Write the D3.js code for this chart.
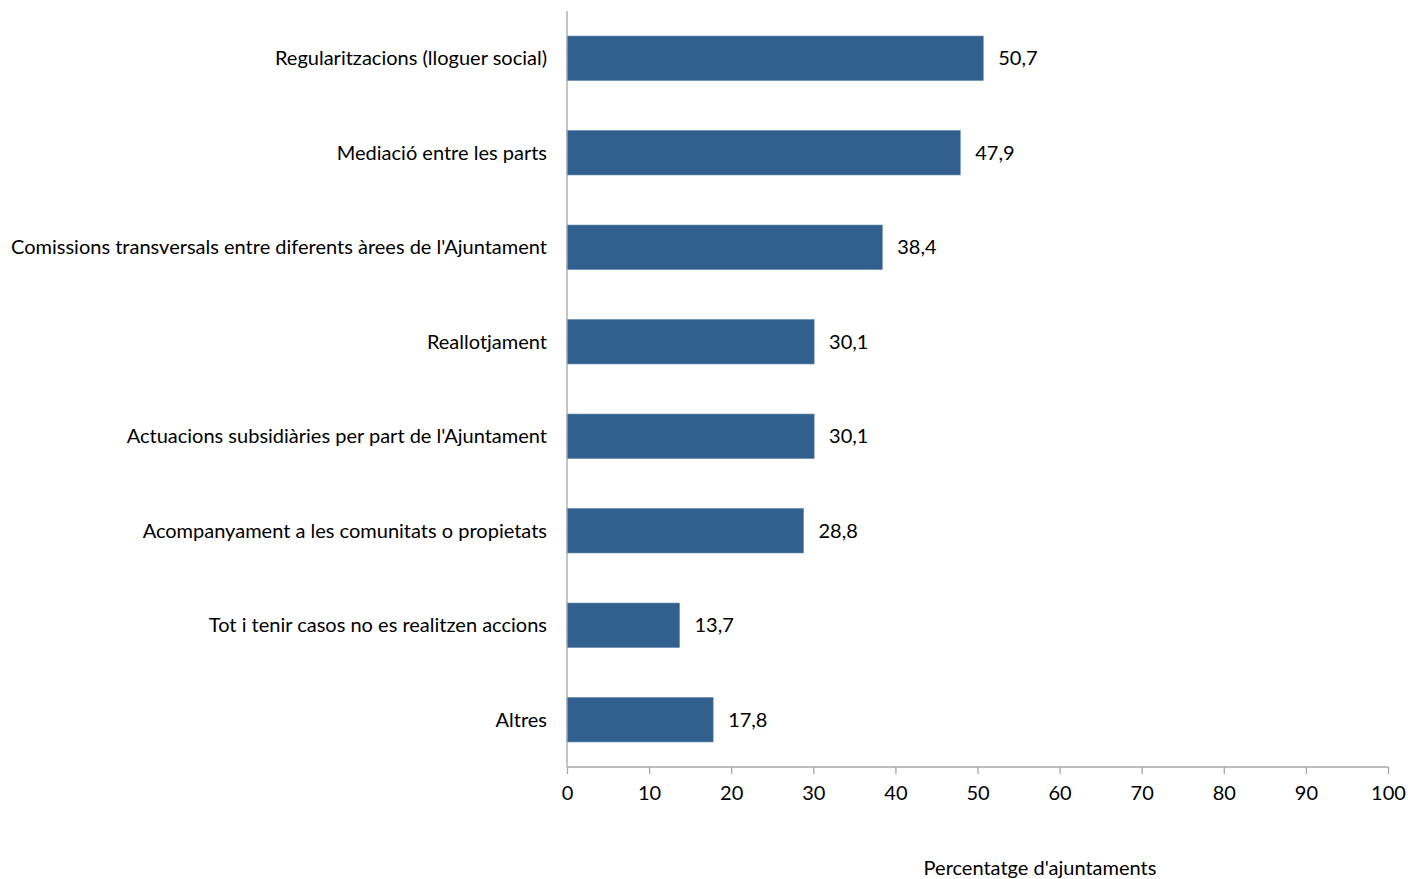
<!DOCTYPE html>
<html><head><meta charset="utf-8">
<script src="https://d3js.org/d3.v7.min.js"></script>
<style>body{margin:0;background:#fff}text{font-family:Lato,"Open Sans",sans-serif;fill:#000}</style>
</head><body><svg id="c" width="1408" height="879"></svg>
<script>
const categories = ["Regularitzacions (lloguer social)","Mediació entre les parts","Comissions transversals entre diferents àrees de l'Ajuntament","Reallotjament","Actuacions subsidiàries per part de l'Ajuntament","Acompanyament a les comunitats o propietats","Tot i tenir casos no es realitzen accions","Altres"];
const values = [50.7,47.9,38.4,30.1,30.1,28.8,13.7,17.8];
const valueLabels = ["50,7","47,9","38,4","30,1","30,1","28,8","13,7","17,8"];
const xTicks = [0,10,20,30,40,50,60,70,80,90,100];
const xTitle = "Percentatge d'ajuntaments";

const svg = d3.select("#c");
const x = d3.scaleLinear().domain([0,100]).range([567,1388]);
const y = d3.scaleBand().domain(categories).range([11,767]).paddingInner(0.53).paddingOuter(0.265);
const fs = 20;

svg.selectAll("rect.bar").data(values).join("rect").attr("class","bar")
  .attr("x",x(0)).attr("y",(d,i)=>y(categories[i]))
  .attr("width",d=>x(d)-x(0)).attr("height",y.bandwidth())
  .attr("fill","#31608f").attr("stroke","#5a82ab").attr("stroke-width",0.6);

svg.append("line").attr("x1",x(0)).attr("x2",x(0)).attr("y1",11).attr("y2",767).attr("stroke","#a6a6a6").attr("stroke-width",1.3);
const xa = svg.append("g").attr("transform","translate(0,767)").call(d3.axisBottom(x).tickValues(xTicks).tickSize(7).tickFormat(d3.format("d")));
xa.select(".domain").attr("stroke","#a6a6a6").attr("stroke-width",1.3).attr("d",`M${x(0)},0H${x(100)}`);
xa.selectAll(".tick line").attr("stroke","#a6a6a6").attr("stroke-width",1.3);
xa.selectAll(".tick text").attr("font-size",fs).attr("font-family","Lato,'Open Sans',sans-serif").attr("y",26).attr("dy","0.35em").attr("fill","#000");

svg.selectAll("text.cat").data(categories).join("text").attr("class","cat")
  .attr("x",547).attr("y",d=>y(d)+y.bandwidth()/2).attr("dy","0.35em")
  .attr("text-anchor","end").attr("font-size",fs).text(d=>d);

svg.selectAll("text.val").data(values).join("text").attr("class","val")
  .attr("x",d=>x(d)+15).attr("y",(d,i)=>y(categories[i])+y.bandwidth()/2).attr("dy","0.35em")
  .attr("font-size",fs).text((d,i)=>valueLabels[i]);

svg.append("text").attr("x",1040).attr("y",868).attr("dy","0.35em").attr("text-anchor","middle").attr("font-size",fs).text(xTitle);
</script></body></html>
